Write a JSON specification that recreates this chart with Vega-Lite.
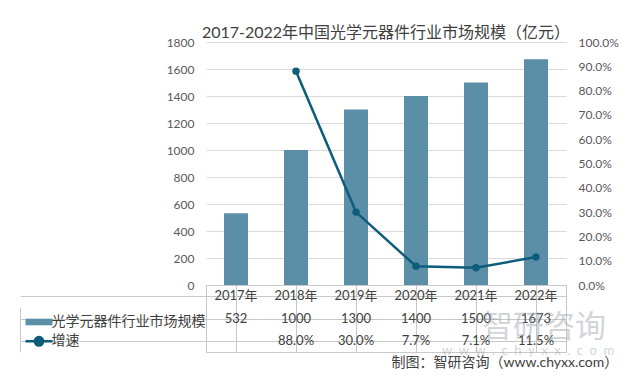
{
  "$schema": "https://vega.github.io/schema/vega-lite/v6.json",
  "background": "white",
  "autosize": {"type": "pad"},
  "padding": {"left": 19, "top": 25, "right": 0, "bottom": 0},
  "spacing": 0,
  "bounds": "flush",
  "title": {"text": "制图：智研咨询（www.chyxx.com）", "orient": "bottom", "anchor": "end", "fontSize": 14, "font": "Lato, Noto Sans CJK SC", "fontWeight": "normal", "color": "#404040", "offset": -2},
  "data": {"values": [
    {"year": "2017年", "value": 532, "growth": null},
    {"year": "2018年", "value": 1000, "growth": 0.88},
    {"year": "2019年", "value": 1300, "growth": 0.30},
    {"year": "2020年", "value": 1400, "growth": 0.077},
    {"year": "2021年", "value": 1500, "growth": 0.071},
    {"year": "2022年", "value": 1673, "growth": 0.115}
  ]},
  "vconcat": [
    {
      "width": 360,
      "height": 243,
      "view": {"stroke": null},
      "title": {"text": "2017-2022年中国光学元器件行业市场规模（亿元）", "fontSize": 16, "font": "Lato, Noto Sans CJK SC", "fontWeight": "normal", "color": "#404040", "anchor": "middle", "frame": "group", "offset": -5},
      "encoding": {
        "x": {"field": "year", "type": "nominal", "scale": {"paddingInner": 0, "paddingOuter": 0}, "axis": null}
      },
      "layer": [
        {
          "mark": {"type": "bar", "width": {"band": 0.4}},
          "encoding": {
            "y": {"field": "value", "type": "quantitative", "scale": {"domain": [0, 1800]},
              "axis": {"values": [0, 200, 400, 600, 800, 1000, 1200, 1400, 1600, 1800], "format": "d", "grid": true, "gridColor": "#d9d9d9", "labelPadding": 12, "title": null, "domain": false, "ticks": false}},
            "color": {"datum": "光学元器件行业市场规模", "type": "nominal",
              "scale": {"domain": ["光学元器件行业市场规模", "增速"], "range": ["#5B8FA8", "#0C5C7C"]},
              "legend": {
                "orient": "none", "legendX": -174, "legendY": 273, "title": null, "padding": 0,
                "symbolSize": 400, "rowPadding": 2.3, "labelOffset": 5.5, "labelFontSize": 14,
                "labelFont": "Noto Sans CJK SC", "labelColor": "#404040", "labelLimit": 300,
                "encode": {"symbols": {"update": {
                  "shape": {"signal": "datum.value === '增速' ? 'M-1.35,0H1.35M0.42,0A0.42,0.42 0 1,1 -0.42,0A0.42,0.42 0 1,1 0.42,0Z' : 'M-1.35,-0.33H1.35V0.33H-1.35Z'"},
                  "fill": {"scale": "color", "field": "value"},
                  "stroke": {"scale": "color", "field": "value"},
                  "strokeWidth": {"signal": "datum.value === '增速' ? 2.5 : 0"},
                  "opacity": {"value": 1},
                  "fillOpacity": {"value": 1},
                  "strokeOpacity": {"value": 1}
                }}}
              }
            }
          }
        },
        {
          "transform": [{"filter": "datum.growth != null"}],
          "mark": {"type": "line", "strokeWidth": 2.5, "point": {"filled": true, "size": 55}},
          "encoding": {
            "y": {"field": "growth", "type": "quantitative", "scale": {"domain": [0, 1]},
              "axis": {"orient": "right", "values": [0, 0.1, 0.2, 0.3, 0.4, 0.5, 0.6, 0.7, 0.8, 0.9, 1.0], "format": ".1%", "grid": false, "labelPadding": 12, "title": null, "domain": false, "ticks": false}},
            "color": {"datum": "增速", "type": "nominal"}
          }
        }
      ],
      "resolve": {"scale": {"y": "independent"}}
    },
    {
      "width": 360,
      "height": 67,
      "view": {"stroke": "#c8c8c8"},
      "encoding": {
        "x": {"field": "year", "type": "nominal", "scale": {"paddingInner": 0, "paddingOuter": 0},
          "axis": {"labels": false, "ticks": false, "domain": false, "title": null, "grid": true, "gridColor": "#c8c8c8", "bandPosition": 0}}
      },
      "layer": [
        {
          "mark": {"type": "text", "fontSize": 13, "font": "Lato, Noto Sans CJK SC", "color": "#404040"},
          "encoding": {
            "y": {"datum": "yr", "type": "nominal", "scale": {"domain": ["yr", "bar", "line"], "paddingInner": 0, "paddingOuter": 0},
              "axis": {"orient": "left", "offset": 186, "labels": false, "title": null, "ticks": true, "tickSize": -186, "tickColor": "#c8c8c8", "domain": true, "domainColor": "#c8c8c8", "domainDash": [0, 22.3, 44.7], "grid": true, "gridColor": "#c8c8c8", "bandPosition": 1}},
            "text": {"field": "year"}
          }
        },
        {
          "mark": {"type": "text", "fontSize": 13, "font": "Lato, Noto Sans CJK SC", "color": "#404040"},
          "encoding": {
            "y": {"datum": "bar", "type": "nominal"},
            "text": {"field": "value", "type": "quantitative", "format": "d"}
          }
        },
        {
          "transform": [{"filter": "datum.growth != null"}],
          "mark": {"type": "text", "fontSize": 13, "font": "Lato, Noto Sans CJK SC", "color": "#404040"},
          "encoding": {
            "y": {"datum": "line", "type": "nominal"},
            "text": {"field": "growth", "type": "quantitative", "format": ".1%"}
          }
        },
        {
          "transform": [{"filter": "datum.year === '2022年'"}],
          "mark": {"type": "text", "fontSize": 31, "font": "Noto Sans CJK SC", "color": "#9aa3ad", "opacity": 0.45, "dx": 8, "dy": 9, "text": "智研咨询"},
          "encoding": {
            "y": {"datum": "bar", "type": "nominal"}
          }
        },
        {
          "transform": [{"filter": "datum.year === '2022年'"}],
          "mark": {"type": "text", "fontSize": 13, "font": "Lato", "color": "#9aa3ad", "opacity": 0.45, "dx": -8, "dy": 10, "text": "w\u2002w\u2002w\u2002.\u2002c\u2002h\u2002y\u2002x\u2002x\u2002.\u2002c\u2002o\u2002m"},
          "encoding": {
            "y": {"datum": "line", "type": "nominal"}
          }
        }
      ]
    }
  ],
  "config": {
    "axis": {"labelFont": "Lato", "labelFontSize": 12, "labelColor": "#595959"},
    "legend": {"symbolOpacity": 1}
  }
}
